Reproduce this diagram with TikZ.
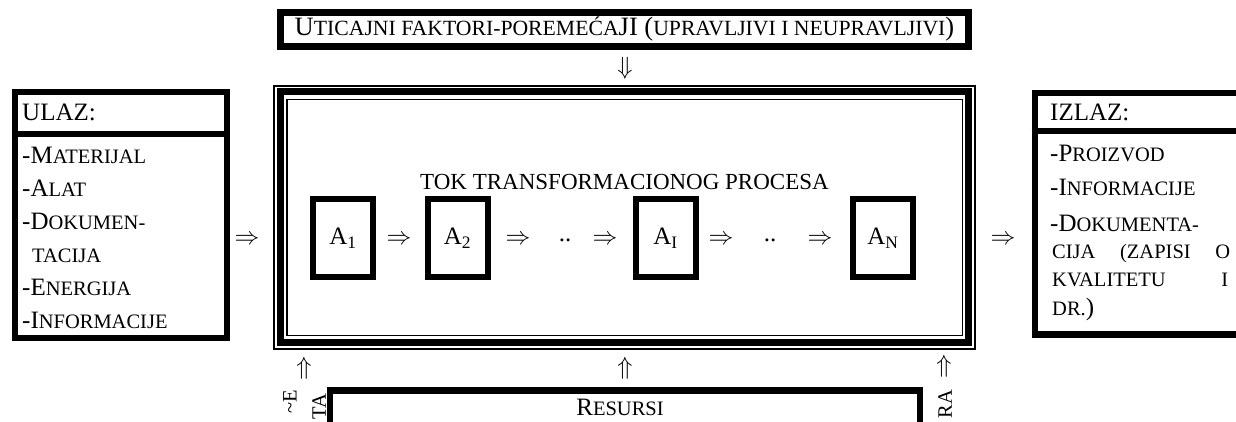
\documentclass[tikz,border=0pt]{standalone}
\usepackage{fontspec}
\setmainfont{Liberation Serif}
\newcommand{\Fs}{\fontsize{25}{30}\selectfont}
\newcommand{\sct}[1]{{\fontsize{20.5}{24}\selectfont #1}}
\newcommand{\Ft}{\fontsize{26.5}{30}\selectfont}
\newcommand{\sctt}[1]{{\fontsize{21.7}{24}\selectfont #1}}
\begin{document}
\begin{tikzpicture}[x=1pt,y=-1pt,
  thick box/.style={draw=black,line width=6.5pt,inner sep=0pt},
  lbl/.style={inner sep=0pt,anchor=base west,font=\Fs},
  arr/.style={inner sep=0pt,font=\fontsize{25}{25}\selectfont},
  abox/.style={draw=black,line width=6pt,minimum width=60pt,minimum height=78pt,inner sep=0pt,font=\Fs},
  rot/.style={inner sep=0pt,rotate=90,font=\Fs}]
\useasboundingbox (0,0) rectangle (1236,421);
\clip (0,0) rectangle (1236,421);
% top box
\node[thick box,minimum width=688pt,minimum height=34pt,font=\Ft] (top) at (624.5,29.5)
  {U\sctt{TICAJNI FAKTORI-POREME\'CA}JI (\sctt{UPRAVLJIVI I NEUPRAVLJIVI})};
\node[arr] (down) at (625,68) {$\Downarrow$};
% main frame
\node[draw=black,line width=2pt,minimum width=701pt,minimum height=263pt,inner sep=0pt] (frame) at (624.5,217.5) {};
\node[draw=black,line width=7pt,minimum width=688pt,minimum height=250.5pt,inner sep=0pt] (frameT) at (624.5,216.75) {};
\node[draw=black,line width=1.8pt,minimum width=675.5pt,minimum height=236pt,inner sep=0pt] (frameI) at (624.75,217.5) {};
\node[inner sep=0pt,font=\fontsize{23}{23}\selectfont] (title) at (624.5,182) {TOK TRANSFORMACIONOG PROCESA};
% activity boxes
\node[abox] (a1) at (343,238) {A\textsubscript{1}};
\node[abox] (a2) at (457.5,238) {A\textsubscript{2}};
\node[abox] (ai) at (665.5,238) {A\textsubscript{I}};
\node[abox] (an) at (883,238) {A\textsubscript{N}};
\node[arr] (r1) at (399,240) {$\Rightarrow$};
\node[arr] (r2) at (518,240) {$\Rightarrow$};
\node[inner sep=0pt,font=\Fs] (d1) at (565,240) {..};
\node[arr] (r3) at (605,240) {$\Rightarrow$};
\node[arr] (r4) at (721,240) {$\Rightarrow$};
\node[inner sep=0pt,font=\Fs] (d2) at (770,240) {..};
\node[arr] (r5) at (820,240) {$\Rightarrow$};
% input box
\node[thick box,minimum width=212pt,minimum height=246pt,anchor=north west] (ulaz) at (11.5,88.5) {};
\coordinate (sepL) at (0,134);
\draw[line width=6.5pt] (ulaz.west |- sepL) -- (ulaz.east |- sepL);
\node[lbl] (u0) at (22,120) {ULAZ:};
\node[lbl] (u1) at (22,163.5) {-M\sct{ATERIJAL}};
\node[lbl] (u2) at (22,196.5) {-A\sct{LAT}};
\node[lbl] (u3) at (22,229.5) {-D\sct{OKUMEN-}};
\node[lbl] (u4) at (32,262.5) {\sct{TACIJA}};
\node[lbl] (u5) at (22,295.5) {-E\sct{NERGIJA}};
\node[lbl] (u6) at (22,328.5) {-I\sct{NFORMACIJE}};
\node[arr] (inarr) at (247,240) {$\Rightarrow$};
% output box
\node[thick box,minimum width=240pt,minimum height=241.5pt,anchor=north west] (izlaz) at (1031.5,89.5) {};
\coordinate (sepR) at (0,131);
\draw[line width=6.5pt] (izlaz.west |- sepR) -- (izlaz.east |- sepR);
\node[lbl] (i0) at (1050,120.5) {IZLAZ:};
\node[lbl] (i1) at (1050,161.5) {-P\sct{ROIZVOD}};
\node[lbl] (i2) at (1050,195.5) {-I\sct{NFORMACIJE}};
\node[lbl] (i3) at (1050,231.5) {-D\sct{OKUMENTA-}};
\node[lbl] (i4) at (1052,258.5) {\hbox to 178pt{\sct{CIJA\hfill(ZAPISI\hfill O}}};
\node[lbl] (i5) at (1052,286.5) {\hbox to 176pt{\sct{KVALITETU\hfill I}}};
\node[lbl] (i6) at (1052,315.5) {\sct{DR.})};
\node[arr] (outarr) at (1003,240) {$\Rightarrow$};
% resources
\node[arr] (up1) at (304,368) {$\Uparrow$};
\node[arr] (up2) at (625,368) {$\Uparrow$};
\node[arr] (up3) at (944,366) {$\Uparrow$};
\node[rot] (t1) at (290,402) {\sct{\textasciitilde E}};
\node[rot] (t2) at (319,407) {\sct{TA}};
\node[rot] (t3) at (945,404) {\sct{RA}};
\node[thick box,minimum width=590pt,minimum height=80pt,anchor=north] (res) at (625,387) {};
\node[inner sep=0pt,font=\Fs] (rest) at (620,407) {R\sct{ESURSI}};
\end{tikzpicture}
\end{document}
